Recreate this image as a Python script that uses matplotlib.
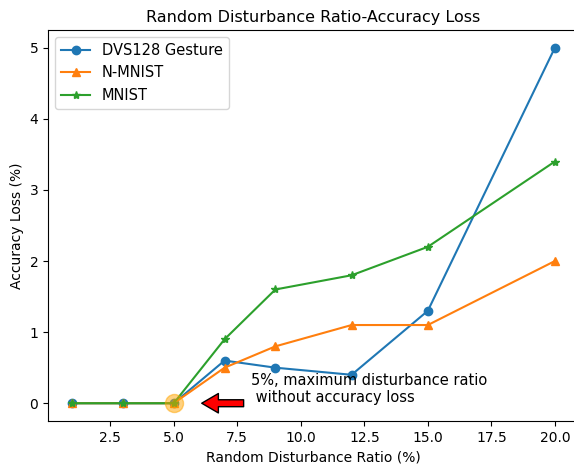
import numpy as np
import matplotlib.pyplot as plt

# disturbance ratio vs accuracy loss for three datasets
ratio = [1, 3, 5, 7, 9, 12, 15, 20]
dvs_loss = [0, 0, 0, 0.6, 0.5, 0.4, 1.3, 5.0]
nmnist_loss = [0, 0, 0, 0.5, 0.8, 1.1, 1.1, 2.0]
mnist_loss = [0, 0, 0, 0.9, 1.6, 1.8, 2.2, 3.4]

best_ratio = 5
best_loss = 0
note = '5%, maximum disturbance ratio\n without accuracy loss'


def main():
    fig = plt.figure(figsize=(5.74, 4.65), dpi=100)
    ax = fig.add_axes([48/574, 44/465, 531/574, 391/465])

    ax.plot(ratio, dvs_loss, marker='o', label='DVS128 Gesture')
    ax.plot(ratio, nmnist_loss, marker='^', label='N-MNIST')
    ax.plot(ratio, mnist_loss, marker='*', label='MNIST')

    # highlight the chosen point
    ax.plot(best_ratio, best_loss, 'o', ms=13, color='orange', alpha=0.5)

    ax.annotate('', xy=(6.1, best_loss), xytext=(7.75, best_loss),
                arrowprops=dict(facecolor='red', edgecolor='black', width=5,
                                headwidth=14, headlength=12, shrink=0))
    ax.text(8.05, 0.2, note, va='center', ha='left', fontsize=10.5)

    ax.set_title('Random Disturbance Ratio-Accuracy Loss', fontsize=11.5)
    ax.set_xlabel('Random Disturbance Ratio (%)')
    ax.set_ylabel('Accuracy Loss (%)')
    ax.legend(loc='upper left', fontsize=10.5)

    fig.savefig('out.png', dpi=100)


if __name__ == "__main__":
    main()
